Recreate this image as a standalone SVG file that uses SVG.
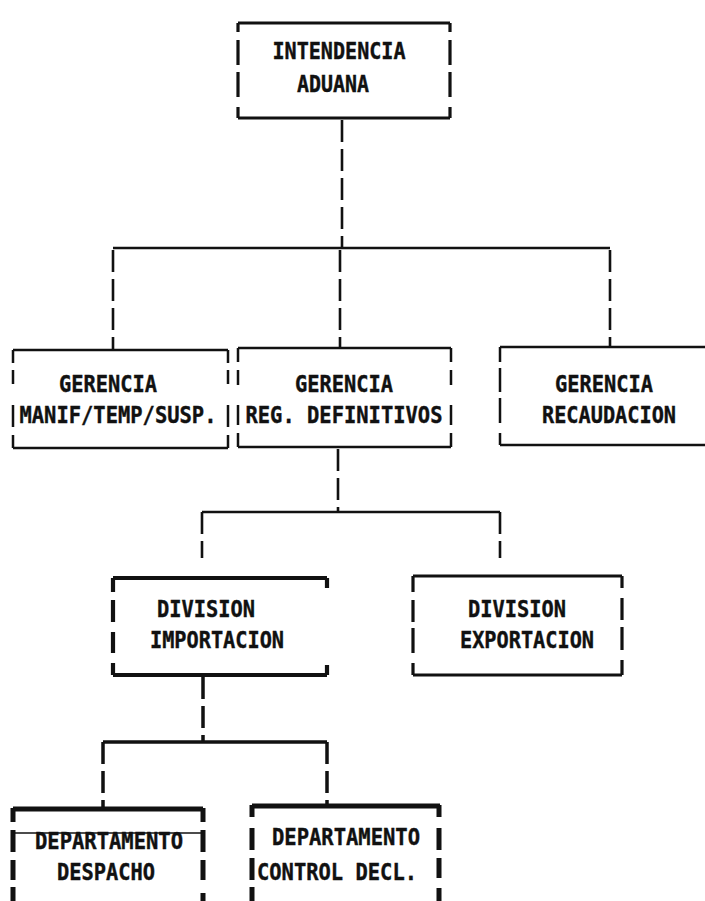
<svg xmlns="http://www.w3.org/2000/svg" width="705" height="901" viewBox="0 0 705 901">
<style>
.bg{fill:#fff}
.b{fill:none;stroke:#111;stroke-linecap:butt}
.w2{stroke-width:2.5}
.w3{stroke-width:3.2}
.w4{stroke-width:4.2}
.w5{stroke-width:5}
.t{font-family:"DejaVu Sans Mono","Liberation Mono",monospace;font-weight:bold;font-size:23px;fill:#111;stroke:#111;stroke-width:0.4;text-anchor:middle}
.c{fill:none;stroke:#111;stroke-width:2.6}
.d{stroke-dasharray:22 7}
</style>
<rect class="bg" x="0" y="0" width="705" height="901"/>
<g id="connectors">
  <path class="c d" d="M342,120 V248"/>
  <path class="c" d="M113,248 H610" stroke="#333"/>
  <path class="c d" d="M113,250 V350"/>
  <path class="c d" d="M340,250 V348"/>
  <path class="c d" d="M610,250 V347"/>
  <path class="c d" d="M338,449 V512"/>
  <path class="c" d="M202,512 H500"/>
  <path class="c d" d="M202,512 V558"/>
  <path class="c d" d="M500,512 V558"/>
  <path class="c d" style="stroke-width:3.5" d="M203,677 V742"/>
  <path class="c" style="stroke-width:3.5" d="M103,742 H327"/>
  <path class="c d" style="stroke-width:3.5" d="M103,742 V809"/>
  <path class="c d" style="stroke-width:3.5" d="M327,742 V806"/>
</g>
<g id="intendencia">
  <path class="b w3" d="M238,23 H450 M238,118 H450 M238,23 V32 M238,40 V65 M238,72 V97 M238,107 V118 M450,23 V32 M450,40 V65 M450,72 V97 M450,107 V118"/>
  <text class="t" x="339" y="59" textLength="133" lengthAdjust="spacingAndGlyphs">INTENDENCIA</text>
  <text class="t" x="333" y="92" textLength="72" lengthAdjust="spacingAndGlyphs">ADUANA</text>
</g>
<g id="gerencia-manif">
  <path class="b w2" d="M13,350 H228 M13,448 H228 M13,350 V363 M13,370 V384 M13,405 V427 M13,435 V448 M228,350 V363 M228,370 V384 M228,405 V427 M228,435 V448"/>
  <text class="t" x="108" y="392" textLength="98" lengthAdjust="spacingAndGlyphs">GERENCIA</text>
  <text class="t" x="118" y="423" textLength="197" lengthAdjust="spacingAndGlyphs">MANIF/TEMP/SUSP.</text>
</g>
<g id="gerencia-reg">
  <path class="b w2" d="M238,348 H451 M238,447 H451 M238,348 V362 M238,370 V385 M238,405 V425 M238,433 V447 M451,348 V362 M451,370 V385 M451,405 V425 M451,433 V447"/>
  <text class="t" x="344" y="392" textLength="98" lengthAdjust="spacingAndGlyphs">GERENCIA</text>
  <text class="t" x="344" y="423" textLength="197" lengthAdjust="spacingAndGlyphs">REG. DEFINITIVOS</text>
</g>
<g id="gerencia-recaudacion">
  <path class="b w2" d="M500,347 H705 M500,445 H705 M500,347 V362 M500,368 V392 M500,398 V423 M500,433 V445"/>
  <text class="t" x="604" y="392" textLength="98" lengthAdjust="spacingAndGlyphs">GERENCIA</text>
  <text class="t" x="609" y="423" textLength="134" lengthAdjust="spacingAndGlyphs">RECAUDACION</text>
</g>
<g id="division-importacion">
  <path class="b w4" d="M113,578 H327 M113,675 H327 M113,578 V592 M113,600 V622 M113,632 V653 M113,663 V675 M327,578 V588 M327,665 V675"/>
  <text class="t" x="206" y="617" textLength="98" lengthAdjust="spacingAndGlyphs">DIVISION</text>
  <text class="t" x="217" y="648" textLength="134" lengthAdjust="spacingAndGlyphs">IMPORTACION</text>
</g>
<g id="division-exportacion">
  <path class="b w3" d="M413,576 H622 M413,675 H622 M413,576 V592 M413,600 V622 M413,628 V653 M413,663 V675 M622,576 V588 M622,598 V620 M622,627 V650 M622,660 V675"/>
  <text class="t" x="517" y="617" textLength="98" lengthAdjust="spacingAndGlyphs">DIVISION</text>
  <text class="t" x="527" y="648" textLength="134" lengthAdjust="spacingAndGlyphs">EXPORTACION</text>
</g>
<g id="depto-despacho">
  <path class="b w5" d="M13,809 H203 M13,808 V822 M13,830 V852 M13,860 V880 M13,887 V901 M203,808 V822 M203,830 V852 M203,860 V880 M203,893 V901"/>
  <path class="b" style="stroke-width:1.6" d="M13,833 H203"/>
  <text class="t" x="109" y="849" textLength="148" lengthAdjust="spacingAndGlyphs">DEPARTAMENTO</text>
  <text class="t" x="106" y="880" textLength="98" lengthAdjust="spacingAndGlyphs">DESPACHO</text>
</g>
<g id="depto-control">
  <path class="b w5" d="M252,806 H440 M252,805 V817 M252,828 V850 M252,858 V880 M252,887 V901 M439,805 V817 M439,828 V850 M439,858 V878 M439,888 V901"/>
  <text class="t" x="346" y="845" textLength="148" lengthAdjust="spacingAndGlyphs">DEPARTAMENTO</text>
  <text class="t" x="337" y="880" textLength="160" lengthAdjust="spacingAndGlyphs">CONTROL DECL.</text>
</g>
</svg>
